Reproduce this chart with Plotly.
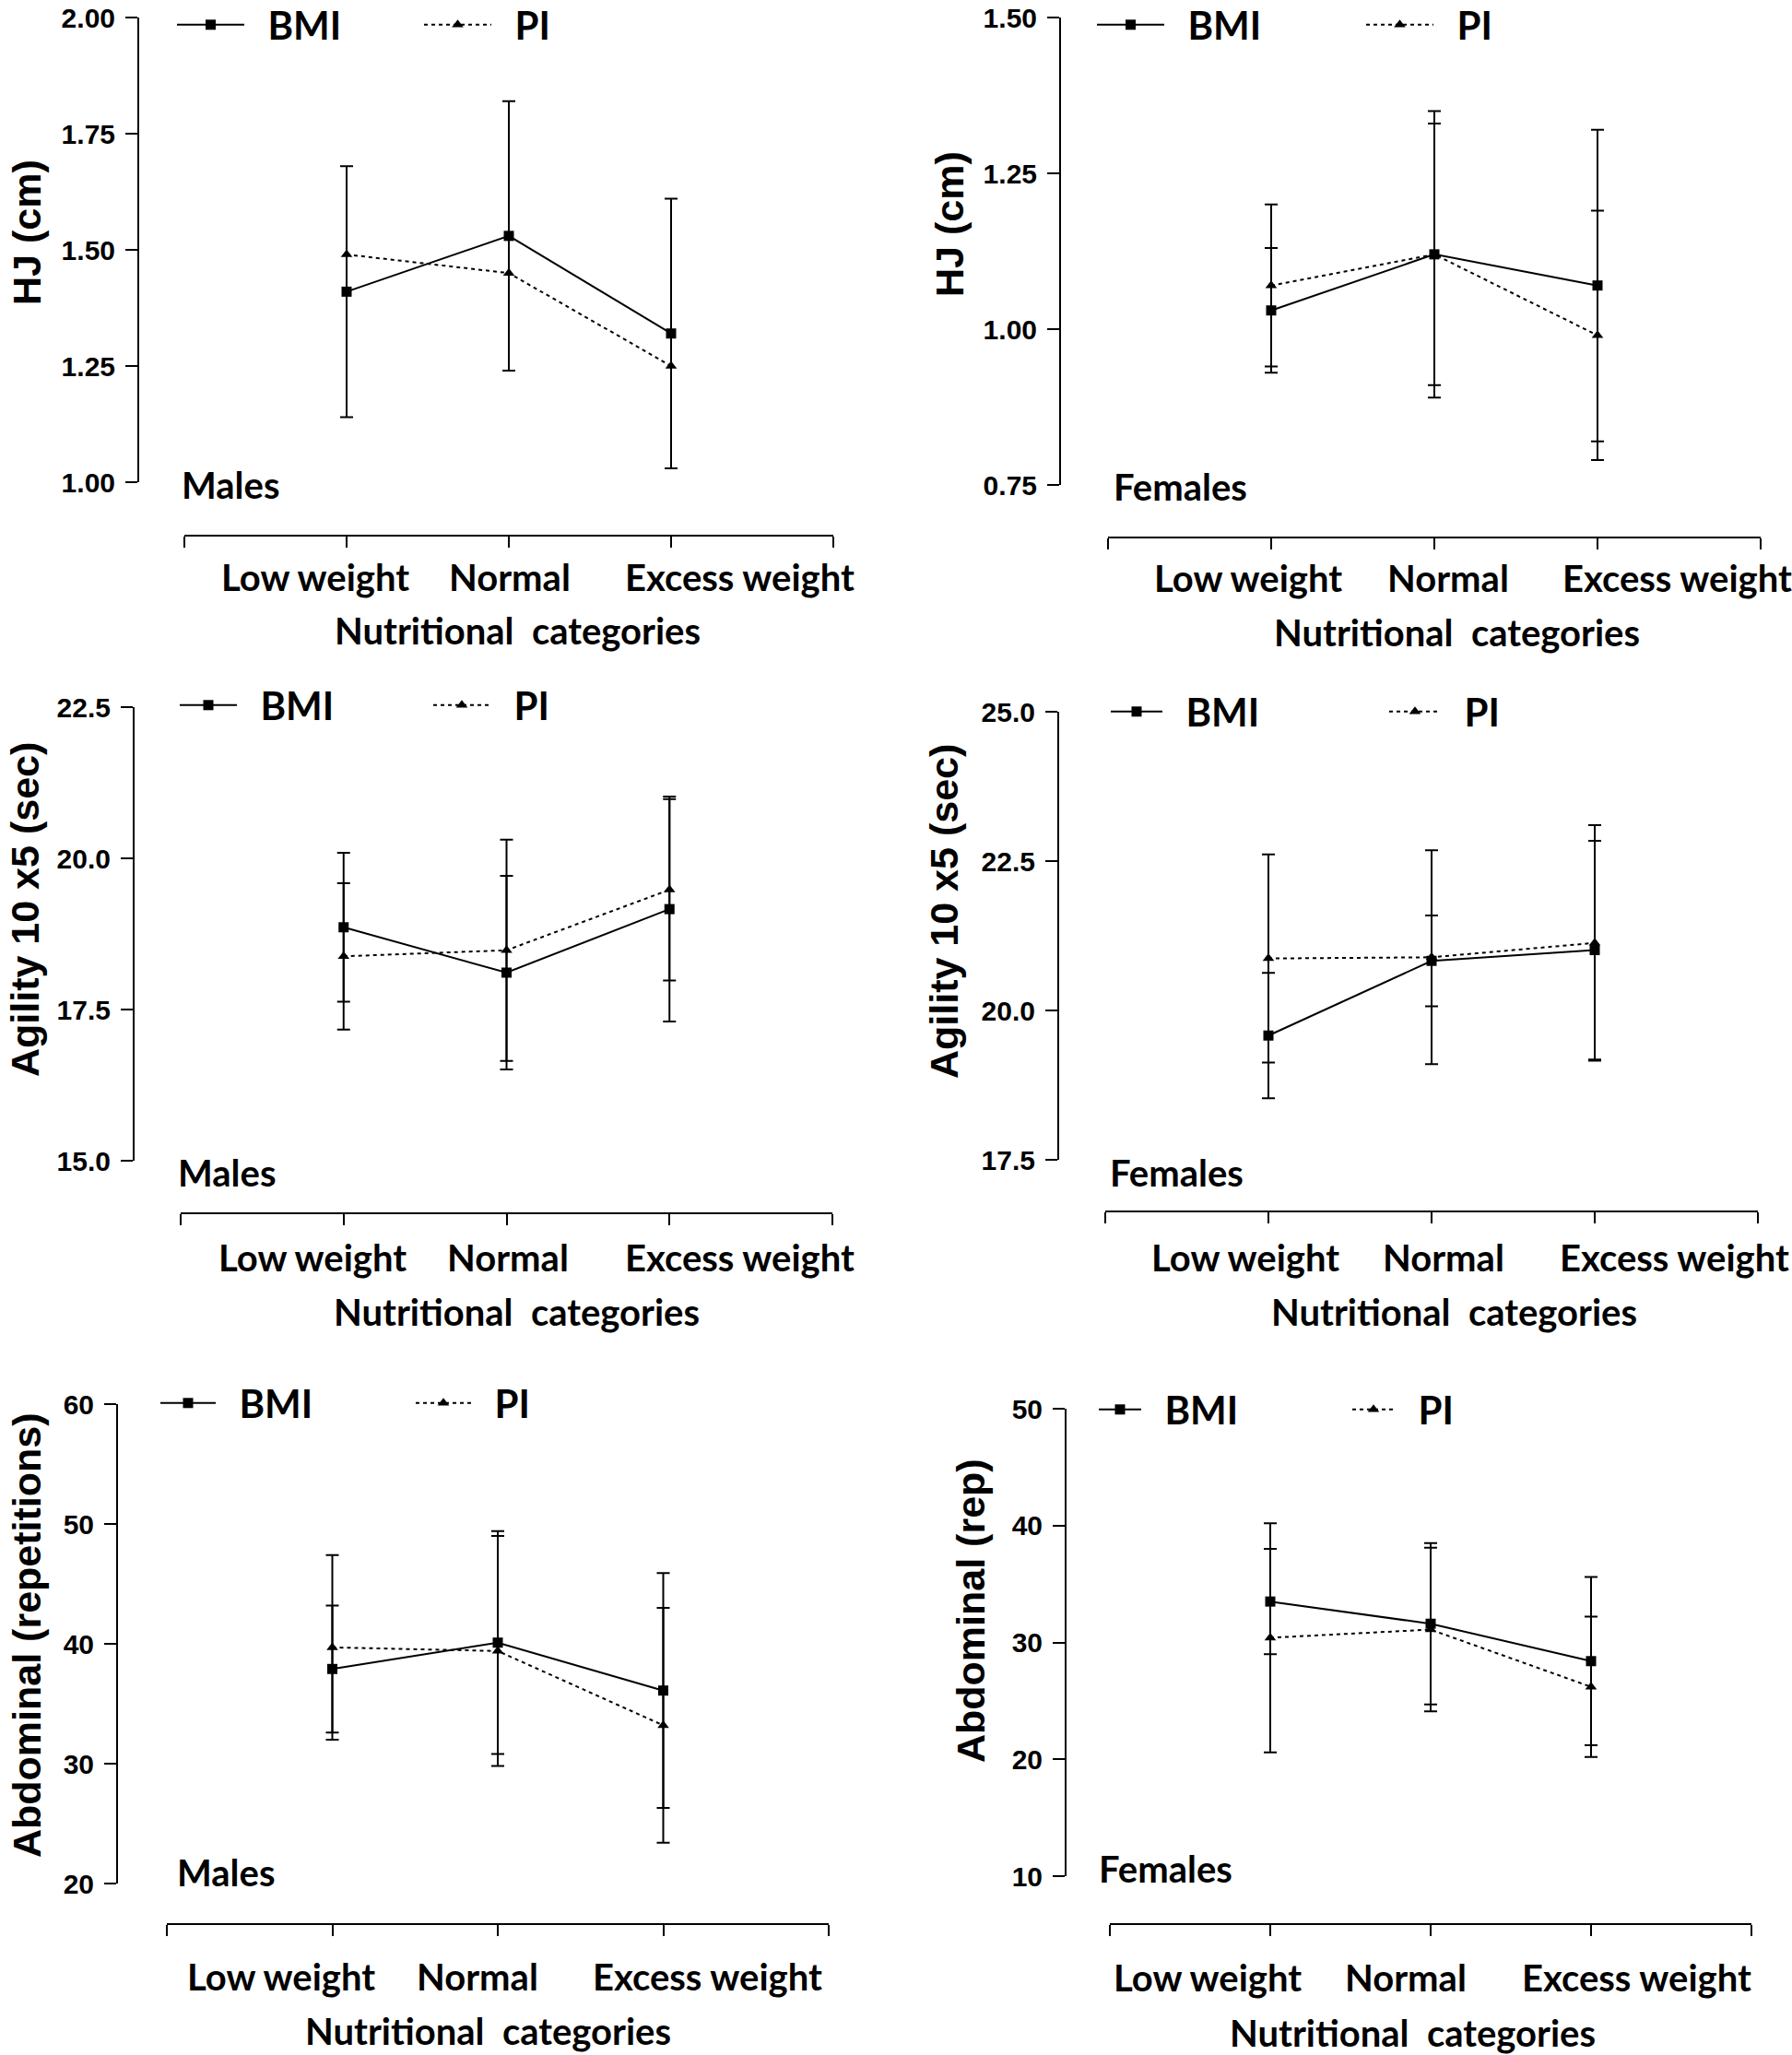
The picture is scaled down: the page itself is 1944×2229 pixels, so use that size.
import plotly.graph_objects as go

W, H = 1944, 2229

# ---------------- data ----------------
categories = ["Low weight", "Normal", "Excess weight"]
x_title = "Nutritional  categories"
series_names = ["BMI", "PI"]

# Horizontal jump, males
hj_m_bmi = [1.41, 1.53, 1.32]
hj_m_bmi_sd = [0.27, 0.29, 0.29]
hj_m_pi = [1.49, 1.45, 1.25]
hj_m_pi_sd = None

# Horizontal jump, females
hj_f_bmi = [1.03, 1.12, 1.07]
hj_f_bmi_sd = [0.10, 0.21, 0.25]
hj_f_pi = [1.07, 1.12, 0.99]
hj_f_pi_sd = [0.13, 0.23, 0.20]

# Agility, males
ag_m_bmi = [18.86, 18.11, 19.16]
ag_m_bmi_sd = [1.23, 1.60, 1.86]
ag_m_pi = [18.38, 18.48, 19.48]
ag_m_pi_sd = [1.21, 1.83, 1.50]

# Agility, females
ag_f_bmi = [19.58, 20.83, 21.01]
ag_f_bmi_sd = [1.05, 0.76, 1.83]
ag_f_pi = [20.87, 20.89, 21.13]
ag_f_pi_sd = [1.74, 1.79, 1.97]

# Abdominal, males
ab_m_bmi = [37.9, 40.1, 36.1]
ab_m_bmi_sd = [5.3, 9.3, 9.8]
ab_m_pi = [39.7, 39.4, 33.2]
ab_m_pi_sd = [7.7, 9.6, 9.8]

# Abdominal, females
ab_f_bmi = [33.5, 31.6, 28.4]
ab_f_bmi_sd = [4.5, 6.9, 7.2]
ab_f_pi = [30.4, 31.1, 26.2]
ab_f_pi_sd = [9.8, 7.0, 6.0]

y_titles = ["HJ (cm)", "HJ (cm)", "Agility 10 x5 (sec)", "Agility 10 x5 (sec)",
            "Abdominal (repetitions)", "Abdominal (rep)"]
groups = ["Males", "Females", "Males", "Females", "Males", "Females"]
y_ranges = [[1.0, 2.0], [0.75, 1.5], [15.0, 22.5], [17.5, 25.0], [20, 60], [10, 50]]
y_dticks = [0.25, 0.25, 2.5, 2.5, 10, 10]
y_formats = [".2f", ".2f", ".1f", ".1f", "d", "d"]

bmi_values = [hj_m_bmi, hj_f_bmi, ag_m_bmi, ag_f_bmi, ab_m_bmi, ab_f_bmi]
bmi_sds = [hj_m_bmi_sd, hj_f_bmi_sd, ag_m_bmi_sd, ag_f_bmi_sd, ab_m_bmi_sd, ab_f_bmi_sd]
pi_values = [hj_m_pi, hj_f_pi, ag_m_pi, ag_f_pi, ab_m_pi, ab_f_pi]
pi_sds = [hj_m_pi_sd, hj_f_pi_sd, ag_m_pi_sd, ag_f_pi_sd, ab_m_pi_sd, ab_f_pi_sd]

# ---------------- layout geometry (pixels) ----------------
# leg = (symbol line start x, row centre y, spacing between entries, symbol width)
geo = [
    dict(yx=150, ytop=19, ybot=523, xy=581, xl=200, xr=904, laby=626, labdx=(-34, 1, 74),
         tity=684, titdx=9, grp=(195, 526), yt=(29, 252), leg=(199, 27, 268, 73)),
    dict(yx=1150, ytop=19, ybot=526, xy=583, xl=1202, xr=1910, laby=627, labdx=(-25, 15, 86),
         tity=686, titdx=24, grp=(1206, 528), yt=(1030, 243), leg=(1197, 27, 292, 73)),
    dict(yx=145, ytop=767, ybot=1259, xy=1316, xl=196, xr=903, laby=1364, labdx=(-34, 1, 76),
         tity=1423, titdx=11, grp=(191, 1272), yt=(27, 987), leg=(202, 765, 275, 62)),
    dict(yx=1148, ytop=772, ybot=1258, xy=1314, xl=1199, xr=1907, laby=1364, labdx=(-25, 13, 86),
         tity=1423, titdx=24, grp=(1202, 1272), yt=(1024, 989), leg=(1212, 772, 302, 56)),
    dict(yx=127, ytop=1523, ybot=2043, xy=2087, xl=181, xr=899, laby=2144, labdx=(-56, -22, 48),
         tity=2203, titdx=-11, grp=(190, 2031), yt=(29, 1774), leg=(181, 1522, 277, 60)),
    dict(yx=1156, ytop=1528, ybot=2035, xy=2087, xl=1204, xr=1900, laby=2145, labdx=(-68, -27, 49),
         tity=2205, titdx=-20, grp=(1190, 2027), yt=(1053, 1747), leg=(1199, 1529, 275, 46)),
]


def px(x):
    return x / W


def py(y):
    return 1 - y / H


TXT = "Lato"
NUM = "Liberation Sans"
BLACK = "#000000"
NBSP = "\u00a0"

fig = go.Figure()
annotations = []
xpos = list(range(len(categories)))

for i in range(6):
    n = "" if i == 0 else str(i + 1)
    g = geo[i]
    leg = "legend" if i == 0 else f"legend{i + 1}"
    lx, ly, lsp, lw = g["leg"]

    for name, vals, sds, sym, dash in [
        (series_names[0], bmi_values[i], bmi_sds[i], "square", "solid"),
        (series_names[1], pi_values[i], pi_sds[i], "triangle-up", "4px,4px"),
    ]:
        err = dict(type="data", array=sds, visible=True, color=BLACK, thickness=2, width=7) \
            if sds is not None else dict(visible=False)
        fig.add_trace(go.Scatter(
            x=xpos, y=vals, name=NBSP * 2 + name, mode="lines+markers",
            xaxis="x" + n, yaxis="y" + n, legend=leg,
            line=dict(color=BLACK, width=2, dash=dash),
            marker=dict(symbol=sym, size=11, color=BLACK),
            error_y=err,
        ))

    fig.update_layout(**{
        "xaxis" + n: dict(
            domain=[px(g["xl"]), px(g["xr"])], range=[-1, 3],
            anchor="free", position=py(g["xy"]),
            tickvals=[-1, 0, 1, 2, 3], showticklabels=False,
            ticks="outside", ticklen=12, tickwidth=2, tickcolor=BLACK,
            showline=True, linewidth=2, linecolor=BLACK,
            showgrid=False, zeroline=False, fixedrange=True,
        ),
        "yaxis" + n: dict(
            domain=[py(g["ybot"]), py(g["ytop"])], range=y_ranges[i],
            anchor="free", position=px(g["yx"]),
            dtick=y_dticks[i], tick0=y_ranges[i][0], tickformat=y_formats[i],
            ticks="outside", ticklen=13, tickwidth=2, tickcolor=BLACK,
            showline=True, linewidth=2, linecolor=BLACK,
            showgrid=False, zeroline=False, fixedrange=True,
            tickfont=dict(family=NUM, size=30, color=BLACK, weight="bold"),
            ticklabelstandoff=5,
        ),
        leg: dict(
            x=px(lx - 12), y=py(ly), xanchor="left", yanchor="middle",
            orientation="h", itemwidth=lw, entrywidth=lsp - lw - 15,
            font=dict(family=TXT, size=42, color=BLACK, weight="bold"),
            bgcolor="rgba(0,0,0,0)", borderwidth=0, itemclick=False, itemdoubleclick=False,
        ),
    })

    # category labels
    for k, cat in enumerate(categories):
        annotations.append(dict(
            x=xpos[k], xref="x" + n, xshift=g["labdx"][k], y=py(g["laby"]), yref="paper",
            text=cat, showarrow=False, xanchor="center", yanchor="middle",
            font=dict(family=TXT, size=40, color=BLACK, weight="bold"),
        ))
    # x axis title
    annotations.append(dict(
        x=xpos[1], xref="x" + n, xshift=g["titdx"], y=py(g["tity"]), yref="paper",
        text=x_title, showarrow=False, xanchor="center", yanchor="middle",
        font=dict(family=TXT, size=40, color=BLACK, weight="bold"),
    ))
    # y axis title
    annotations.append(dict(
        x=px(g["yt"][0]), xref="paper", y=py(g["yt"][1]), yref="paper",
        text=y_titles[i], textangle=-90, showarrow=False, xanchor="center", yanchor="middle",
        font=dict(family=NUM, size=43, color=BLACK, weight="bold"),
    ))
    # group label
    annotations.append(dict(
        x=px(g["grp"][0]), xref="paper", y=py(g["grp"][1]), yref="paper",
        text=groups[i], showarrow=False, xanchor="left", yanchor="middle",
        font=dict(family=TXT, size=40, color=BLACK, weight="bold"),
    ))

fig.update_layout(
    width=W, height=H,
    margin=dict(l=0, r=0, t=0, b=0, autoexpand=False),
    paper_bgcolor="white", plot_bgcolor="white",
    annotations=annotations,
    showlegend=True,
)

fig.write_html("out.html", config={"displayModeBar": False},
               post_script="document.body.style.margin='0px';")
